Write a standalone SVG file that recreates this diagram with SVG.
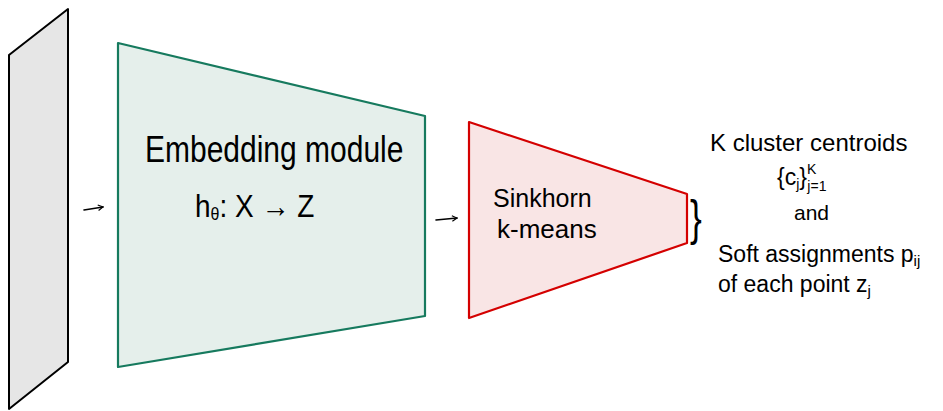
<svg xmlns="http://www.w3.org/2000/svg" width="943" height="411" viewBox="0 0 943 411">
<defs>
<style>
.t{font-family:"Liberation Sans",Arial,sans-serif;fill:#000}
.conn{stroke:#000;stroke-width:1.6;fill:none;stroke-linecap:round;stroke-linejoin:round}
</style>
<marker id="ah" viewBox="0 0 10 10" refX="8" refY="5" markerWidth="7" markerHeight="7" orient="auto" markerUnits="userSpaceOnUse">
<path d="M1,1 L8,5 L1,9" fill="none" stroke="#000" stroke-width="1.6"/>
</marker>
</defs>
<rect width="943" height="411" fill="#fff"/>
<g id="input">
<polygon points="9,55 68,9 68,362 9,409" fill="#e6e6e6" stroke="#000" stroke-width="2" stroke-linejoin="round"/>
</g>
<g id="embedding">
<polygon points="118,43 425,116 425,316 118,367" fill="#e5efeb" stroke="#167a5e" stroke-width="2.2" stroke-linejoin="round"/>
<text class="t" x="145" y="162" font-size="30" transform="translate(145,162) scale(1,1.2) translate(-145,-162)">Embedding module</text>
<text class="t" x="195" y="217" font-size="28" transform="translate(195,217) scale(1,1.15) translate(-195,-217)">h<tspan font-size="16" dy="3">θ</tspan><tspan dy="-3">: X → Z</tspan></text>
</g>
<g id="sinkhorn">
<polygon points="469,122 687,194 687,243 469,318" fill="#f9e5e5" stroke="#d40000" stroke-width="2.2" stroke-linejoin="round"/>
<text class="t" x="493" y="207" font-size="25">Sinkhorn</text>
<text class="t" x="497" y="238" font-size="26">k-means</text>
</g>
<g id="output">
<text class="t" x="690" y="233" font-size="44" transform="translate(690,219) scale(0.8,1.15) translate(-690,-219)">}</text>
<text class="t" x="710" y="151" font-size="24">K cluster centroids</text>
<text class="t" x="777" y="185" font-size="23">{c<tspan font-size="14" dy="4">j</tspan><tspan dy="-4">}</tspan><tspan font-size="14" dy="-11">K</tspan><tspan font-size="14" dx="-9" dy="17">j=1</tspan></text>
<text class="t" x="794" y="220" font-size="21">and</text>
<text class="t" x="718" y="262" font-size="23">Soft assignments p<tspan font-size="15" dy="4">ij</tspan></text>
<text class="t" x="718" y="292" font-size="23">of each point z<tspan font-size="15" dy="4">j</tspan></text>
</g>
<g id="connectors">
<line class="conn" x1="84" y1="210" x2="103" y2="207" marker-end="url(#ah)"/>
<line class="conn" x1="436" y1="220" x2="457" y2="218" marker-end="url(#ah)"/>
</g>
</svg>
